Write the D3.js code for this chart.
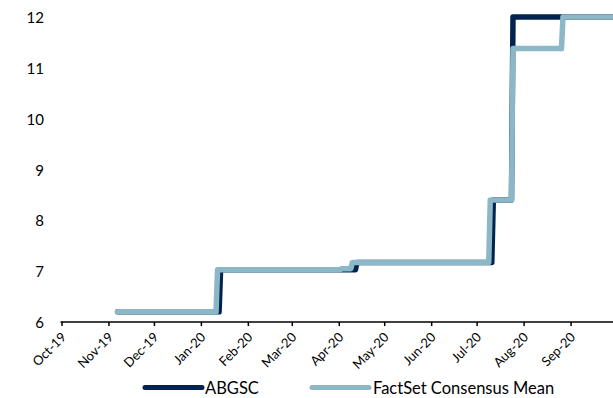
<!DOCTYPE html>
<html>
<head>
<meta charset="utf-8">
<script src="https://cdn.jsdelivr.net/npm/d3@7"></script>
<style>
  html, body { margin: 0; padding: 0; background: #fff; }
  svg { display: block; }
  text { font-family: Lato, "Open Sans", sans-serif; fill: #000; }
</style>
</head>
<body>
<svg id="chart" width="613" height="398"></svg>
<script>
// Target price history (change dates and levels)
const abgscDates  = ["2019-11-07", "2020-01-14", "2020-04-13", "2020-07-12", "2020-07-25", "2020-09-30"];
const abgscValues = [6.20, 7.03, 7.17, 8.40, 12.00, 12.00];

const factsetDates  = ["2019-11-07", "2020-01-12", "2020-04-03", "2020-04-10", "2020-07-10", "2020-07-25", "2020-08-27", "2020-09-30"];
const factsetValues = [6.20, 7.03, 7.05, 7.17, 8.40, 11.38, 12.00, 12.00];

const yTicks = [6, 7, 8, 9, 10, 11, 12];
const monthTicks = ["2019-10-01", "2019-11-01", "2019-12-01", "2020-01-01", "2020-02-01", "2020-03-01",
                    "2020-04-01", "2020-05-01", "2020-06-01", "2020-07-01", "2020-08-01", "2020-09-01"];
const seriesNames = ["ABGSC", "FactSet Consensus Mean"];
const seriesColors = ["#00244f", "#8cb7c7"];

const parse = d3.utcParse("%Y-%m-%d");
const svg = d3.select("#chart");

const x = d3.scaleUtc()
  .domain([parse("2019-10-01"), parse("2020-09-30")])
  .range([61.5, 614.5]);
const y = d3.scaleLinear().domain([6, 12]).range([322, 17]);

// Daily steps: each change moves from the previous level to the new one over one day
function stepPoints(dates, values) {
  const pts = [];
  dates.forEach((ds, i) => {
    const d = parse(ds);
    if (i > 0 && values[i] !== values[i - 1]) {
      pts.push([d3.utcDay.offset(d, -1), values[i - 1]]);
    }
    pts.push([d, values[i]]);
  });
  return pts;
}

const line = d3.line().x(d => x(d[0])).y(d => y(d[1]));

// Y axis labels (no axis line)
svg.append("g").selectAll("text")
  .data(yTicks).join("text")
  .attr("x", 44)
  .attr("y", d => y(d))
  .attr("text-anchor", "end")
  .attr("dominant-baseline", "central")
  .style("font-size", "15px")
  .text(d => d);

// Series lines: ABGSC underneath, consensus on top
const series = [stepPoints(abgscDates, abgscValues), stepPoints(factsetDates, factsetValues)];
svg.append("g").selectAll("path")
  .data(series).join("path")
  .attr("d", line)
  .attr("fill", "none")
  .attr("stroke", (d, i) => seriesColors[i])
  .attr("stroke-width", 5.5)
  .attr("stroke-linejoin", "round")
  .attr("stroke-linecap", "round");

// X axis
const xAxis = d3.axisBottom(x)
  .tickValues(monthTicks.map(parse))
  .tickFormat(d3.utcFormat("%b-%y"))
  .tickSizeInner(4)
  .tickSizeOuter(0);

const gx = svg.append("g")
  .attr("transform", `translate(0,${y(6)})`)
  .call(xAxis);
gx.select(".domain").attr("stroke", "#000").attr("stroke-width", 1.6)
  .attr("d", `M${x.range()[0] - 1},0H${x.range()[1] + 5}`);
gx.selectAll(".tick line").attr("stroke", "#000").attr("stroke-width", 1.5);
gx.selectAll(".tick text")
  .attr("x", 0).attr("y", 0).attr("dy", 0)
  .attr("text-anchor", "end")
  .attr("transform", "translate(5,16) rotate(-45)")
  .style("font-family", "Lato, sans-serif")
  .style("font-size", "13px")
  .attr("fill", "#000");

// Legend
const legend = svg.append("g");
const legendItems = [
  { x0: 145, x1: 202, tx: 205 },
  { x0: 312, x1: 369, tx: 373 }
];
legendItems.forEach((it, i) => {
  legend.append("line")
    .attr("x1", it.x0).attr("x2", it.x1)
    .attr("y1", 387.5).attr("y2", 387.5)
    .attr("stroke", seriesColors[i])
    .attr("stroke-width", 5)
    .attr("stroke-linecap", "round");
  legend.append("text")
    .attr("x", it.tx).attr("y", 388)
    .attr("dominant-baseline", "central")
    .style("font-size", "16.5px")
    .text(seriesNames[i]);
});
</script>
</body>
</html>
